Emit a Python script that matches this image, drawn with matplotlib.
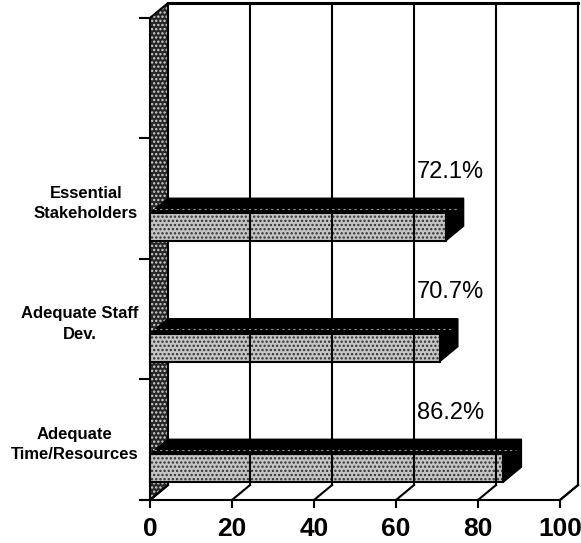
import matplotlib.pyplot as plt
from matplotlib.patches import Polygon

plt.rcParams["font.family"] = ["Liberation Sans", "DejaVu Sans"]
plt.rcParams["hatch.linewidth"] = 1.1

# bottom to top; top slot of the chart stays empty
categories = ["Adequate\nTime/Resources", "Adequate Staff\nDev.", "Essential\nStakeholders"]
values = [86.2, 70.7, 72.1]
n_slots = 4
xticks = [0, 20, 40, 60, 80, 100]

# fake 3D depth, in data units
DX = 4.39
DY = 0.124
BAR_OFF = 0.149   # gap between slot bottom and bar
BAR_H = 0.231     # front face height


def poly(ax, pts, **kw):
    ax.add_patch(Polygon(pts, closed=True, clip_on=False, **kw))


fig = plt.figure(figsize=(5.81, 5.43), dpi=100)
ax = fig.add_axes([150 / 581, 43 / 543, 428 / 581, 497 / 543])
ax.set_xlim(0, 100 + DX)
ax.set_ylim(0, n_slots + DY)
ax.axis("off")

top = n_slots + DY

# back wall with gridlines
poly(ax, [(DX, DY), (100 + DX, DY), (100 + DX, top), (DX, top)],
     facecolor="white", edgecolor="none")
for x in xticks[1:]:
    ax.plot([x + DX, x + DX], [DY, top], color="black", lw=1.5, clip_on=False)
ax.plot([DX, 100 + DX], [top, top], color="black", lw=2.2, clip_on=False)

# floor
poly(ax, [(0, 0), (100, 0), (100 + DX, DY), (DX, DY)],
     facecolor="white", edgecolor="none")
for x in xticks:
    ax.plot([x, x + DX], [0, DY], color="black", lw=1.5, clip_on=False)
    ax.plot([x, x], [0, -0.06], color="black", lw=1.5, clip_on=False)
    ax.text(x, -0.24, str(x), ha="center", va="center", fontsize=19,
            fontweight="bold")
ax.plot([-2.5, 100], [0, 0], color="black", lw=1.5, clip_on=False)

# left wall
wall = [(0, 0), (DX, DY), (DX, top), (0, n_slots)]
poly(ax, wall, facecolor="#262626", edgecolor="#d4d4d4", hatch="....", lw=0)
poly(ax, wall, facecolor="none", edgecolor="black", lw=1.5)
for i in range(n_slots + 1):
    ax.plot([-2.5, 0], [i, i], color="black", lw=1.5, clip_on=False)

# bars
for i, (cat, v) in enumerate(zip(categories, values)):
    y0 = i + BAR_OFF
    y1 = y0 + BAR_H
    # top and side faces
    poly(ax, [(0, y1), (v, y1), (v + DX, y1 + DY), (DX, y1 + DY)],
         facecolor="black", edgecolor="black", lw=1)
    poly(ax, [(v, y0), (v + DX, y0 + DY), (v + DX, y1 + DY), (v, y1)],
         facecolor="black", edgecolor="black", lw=1)
    ax.plot([1.0, v + DX * 0.7], [y1 + DY * 0.3, y1 + DY * 0.3],
            color="#9a9a9a", lw=0.8, ls=(0, (2, 3)), clip_on=False)
    # front face
    front = [(0, y0), (v, y0), (v, y1), (0, y1)]
    poly(ax, front, facecolor="#c4c4c4", edgecolor="#303030", hatch="....", lw=0)
    poly(ax, front, facecolor="none", edgecolor="black", lw=1.5)

    ax.text(73.2, y1 + DY + 0.22, f"{v}%", ha="center", va="center",
            fontsize=17)
    ax.text(-2.9, i + 0.46, cat, ha="right", va="center", ma="center",
            fontsize=12, fontweight="bold", linespacing=1.45, clip_on=False)

# right edge of the box
ax.plot([100 + DX, 100 + DX], [DY, top], color="black", lw=1.5, clip_on=False)
ax.plot([100, 100 + DX], [0, DY], color="black", lw=1.5, clip_on=False)

fig.savefig("out.png", dpi=100)
